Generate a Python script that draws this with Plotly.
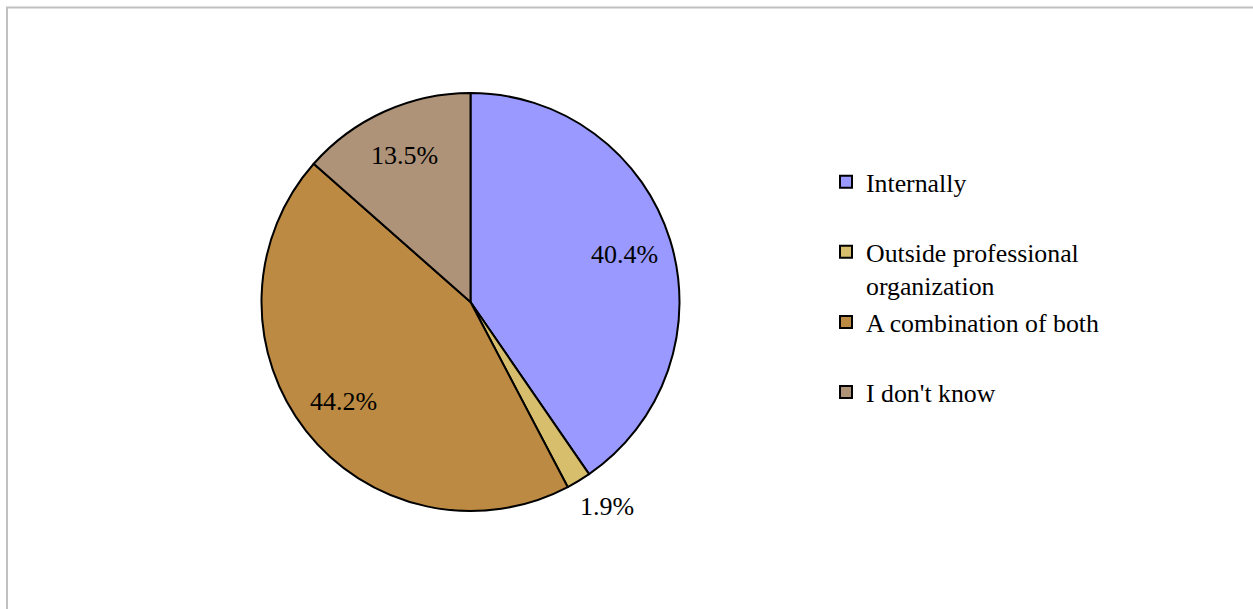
import math
import plotly.graph_objects as go

labels = ["Internally", "Outside professional organization", "A combination of both", "I don't know"]
legend_text = ["Internally<br> ", "Outside professional<br>organization", "A combination of both<br> ", "I don't know"]
values = [40.4, 1.9, 44.2, 13.5]
colors = ["#9999FF", "#D6BE6C", "#BC8A42", "#AE9378"]
label_inside = [True, False, True, True]

W, H = 1253, 609
cx, cy, r = 470.5, 302, 209
SERIF = "Liberation Serif, Times New Roman, serif"

fig = go.Figure(go.Pie(
    labels=legend_text,
    values=values,
    sort=False,
    direction="clockwise",
    rotation=0,
    marker=dict(colors=colors, line=dict(color="black", width=2)),
    textinfo="none",
    hovertext=labels,
    hoverinfo="text+value",
    domain=dict(x=[(cx - r) / W, (cx + r) / W], y=[(H - cy - r) / H, (H - cy + r) / H]),
))

# percentage labels placed along each slice's mid-angle (clockwise from 12 o'clock)
total = sum(values)
annotations = []
cum = 0.0
for v, inside in zip(values, label_inside):
    mid = (cum + v / 2) / total * 2 * math.pi
    cum += v
    dx, dy = math.sin(mid), -math.cos(mid)
    if inside:
        px, py = cx + 0.77 * r * dx, cy + 0.77 * r * dy
    else:
        # just outside the rim, shifted by half the label box
        px = cx + (r + 18) * dx + 36 * dx
        py = cy + (r + 18) * dy + 12 * dy
    annotations.append(dict(
        x=px / W, y=1 - py / H, xref="paper", yref="paper",
        text=f"{v:.1f}%", showarrow=False, xanchor="center", yanchor="middle",
        font=dict(family=SERIF, size=26, color="black"),
    ))

fig.update_layout(
    width=W, height=H,
    margin=dict(l=0, r=0, t=0, b=0),
    paper_bgcolor="white",
    font=dict(family=SERIF, color="black"),
    showlegend=True,
    legend=dict(
        x=826 / W, y=1 - 158.5 / H, xanchor="left", yanchor="top",
        font=dict(family=SERIF, size=25.8, color="black"),
        valign="top",
        bgcolor="rgba(0,0,0,0)",
    ),
    annotations=annotations,
    shapes=[dict(type="rect", xref="paper", yref="paper",
                 x0=7 / W, x1=1.01, y0=-0.01, y1=1 - 7.5 / H,
                 line=dict(color="#c0c0c0", width=2), fillcolor="rgba(0,0,0,0)")],
)

fig.write_html("out.html")
